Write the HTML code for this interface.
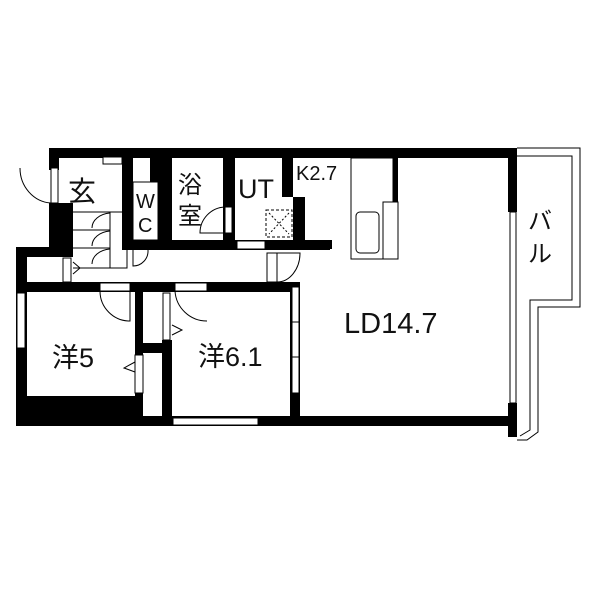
<!DOCTYPE html>
<html><head><style>body{margin:0;background:#fff}svg{display:block}text{font-family:"Liberation Sans","Noto Sans CJK JP",sans-serif;fill:#111}</style></head><body>
<svg width="600" height="600" viewBox="0 0 600 600">
<rect width="600" height="600" fill="#fff"/>
<g fill="#000">
<rect x="49" y="148" width="468" height="10"/>
<rect x="49" y="148" width="10" height="22"/>
<rect x="49" y="203" width="24" height="54"/>
<rect x="16" y="247" width="57" height="10"/>
<rect x="16" y="247" width="11" height="179"/>
<rect x="16" y="282" width="284" height="10"/>
<rect x="122" y="148" width="11" height="102"/>
<rect x="150" y="148" width="22" height="34"/>
<rect x="158" y="182" width="14" height="68"/>
<rect x="223" y="148" width="12" height="102"/>
<rect x="122" y="240" width="208" height="10"/>
<rect x="282" y="158" width="11" height="39"/>
<rect x="293" y="197" width="12" height="53"/>
<rect x="283" y="240" width="49" height="9"/>
<rect x="383" y="158" width="15" height="44"/>
<rect x="508" y="148" width="9" height="64"/>
<rect x="508" y="403" width="9" height="34"/>
<rect x="16" y="416" width="501" height="10"/>
<rect x="290" y="282" width="10" height="144"/>
<rect x="27" y="396" width="116" height="20"/>
<rect x="135" y="292" width="8" height="104"/>
<rect x="135" y="343" width="37" height="10"/>
<rect x="162" y="340" width="10" height="76"/>
</g>
<g fill="#fff" stroke="#000" stroke-width="1">
<rect x="51" y="168" width="7" height="35"/>
<rect x="103" y="157" width="19" height="7"/>
<rect x="17" y="293" width="8" height="55"/>
<rect x="100" y="283" width="30" height="8"/>
<rect x="175" y="283" width="32" height="8"/>
<rect x="237" y="241" width="28" height="8"/>
<rect x="225" y="207" width="7" height="26"/>
<rect x="267" y="253" width="10" height="29"/>
<rect x="63" y="258" width="8" height="24"/>
<rect x="135" y="355" width="8" height="38"/>
<rect x="163" y="293" width="7" height="47"/>
<rect x="173" y="418" width="85" height="7"/>
<rect x="292" y="287" width="7" height="106"/>
<rect x="510" y="212" width="6" height="191"/>
<rect x="133" y="182" width="25" height="58"/>
<rect x="351" y="158" width="42" height="101"/>
<rect x="383" y="202" width="15" height="57"/>
<rect x="356" y="212" width="23" height="41" rx="4"/>
</g>
<g fill="none" stroke="#000" stroke-width="1">
<line x1="292" y1="322" x2="299" y2="322"/><line x1="292" y1="357" x2="299" y2="357"/>
<path d="M20 168 A33 35 0 0 0 51 203"/>
<path d="M100 291 A30 30 0 0 0 130 321 V291"/>
<path d="M175 291 A32 32 0 0 0 207 321"/>
<path d="M225 207 A26 26 0 0 0 200 233 H225"/>
<path d="M277 253 H300 A23 29 0 0 1 277 282"/>
<path d="M133 250 V266 A15 15 0 0 0 148 250"/>
<path d="M73 262 L80 268 L73 274"/>
<path d="M172 325 L182 330 L172 335"/>
<path d="M135 362 L124 368 L135 372"/>
<rect x="266" y="210" width="26" height="27" stroke-dasharray="3,2"/>
<path d="M269 213 L289 234 M289 213 L269 234" stroke-dasharray="2,2"/>
<path d="M73 212 H110 V268 H73 M110 212 H127 V268 H110 M110 230 H73 M110 248 H73"/>
<path d="M110 213 A20 15 0 0 0 92 228 M110 231 A20 15 0 0 0 92 246 M110 249 A20 15 0 0 0 92 264"/>
<path d="M517 148 H580 V307 H538 V432 L527 440 H517"/>
<path d="M517 156 H572 V300 H530 V430 L520 436"/>
</g>
<text x="68" y="201" font-size="28">玄</text>
<text x="136" y="208" font-size="20">W</text>
<text x="138" y="232" font-size="20">C</text>
<text x="178" y="193" font-size="24">浴</text>
<text x="178" y="224" font-size="24">室</text>
<text x="238" y="198" font-size="27">UT</text>
<text x="296" y="180" font-size="20">K2.7</text>
<text x="528" y="229" font-size="24">バ</text>
<text x="528" y="262" font-size="24">ル</text>
<text x="344" y="333" font-size="29">LD14.7</text>
<text x="52" y="367" font-size="27">洋5</text>
<text x="198" y="366" font-size="27">洋6.1</text>
</svg>
</body></html>
